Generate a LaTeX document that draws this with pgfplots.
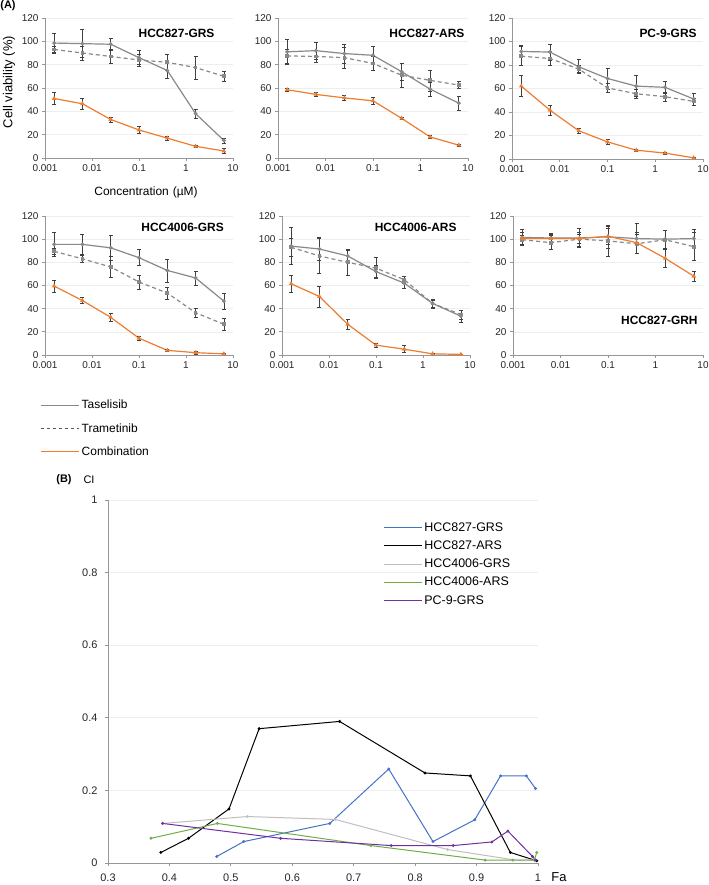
\documentclass[border=0pt]{standalone}
\usepackage{pgfplots}
\pgfplotsset{compat=1.18}
\usepackage{fontspec}
\setmainfont{Liberation Sans}
\pgfkeys{/pgf/number format/assume math mode=true}

\definecolor{tasgray}{RGB}{137,137,137}
\definecolor{tragray}{RGB}{137,137,137}
\definecolor{corange}{RGB}{237,125,49}
\definecolor{errcol}{RGB}{64,64,64}
\definecolor{axcol}{RGB}{150,150,150}
\definecolor{gridcol}{RGB}{238,238,238}
\definecolor{cblue}{RGB}{68,114,196}
\definecolor{lgray}{RGB}{191,191,191}
\definecolor{lgreen}{RGB}{112,173,71}
\definecolor{lpurple}{RGB}{112,48,160}

\pgfplotsset{
  errbars/.style={
    error bars/y dir=both, error bars/y explicit,
    error bars/error bar style={errcol, line width=0.6bp, solid},
    error bars/error mark options={rotate=90, errcol, mark size=2bp, line width=0.6bp, solid},
  },
  tasplot/.style={errbars, color=tasgray, line width=1.2bp, mark=*, mark size=1.3bp, mark options={solid, fill=tasgray}},
  traplot/.style={errbars, color=tragray, line width=1.2bp, dash pattern=on 4bp off 3bp, mark=square*, mark size=1.3bp, mark options={solid, fill=tragray}},
  complot/.style={errbars, color=corange, line width=1.2bp, mark=triangle*, mark size=1.5bp, mark options={solid, fill=corange}},
  ciplot/.style={line width=1bp, mark=*, mark size=0.9bp},
}
\newcommand\ttlfont{\bfseries\fontsize{12}{14}\selectfont}
\newcommand\tickfont{\fontsize{10}{12}\selectfont}

\begin{document}
\begin{tikzpicture}[x=1bp,y=1bp]
\useasboundingbox (0,0) rectangle (709,885);

% (A) HCC827-GRS
\begin{axis}[xmode=log, xmin=0.001, xmax=10, ymin=0, ymax=120, ytick={0,20,...,120},
  xtick={0.001,0.01,0.1,1,10}, xticklabels={0.001,0.01,0.1,1,10}, xminorticks=false,
  scale only axis, axis x line*=bottom, axis y line*=left,
  axis line style={axcol, line width=0.8bp}, tick style={axcol, line width=0.8bp},
  tick align=outside, major tick length=3bp, ymajorgrids, grid style={gridcol, line width=0.6bp},
  tick label style={font=\tickfont, black!85},
  at={(45bp,727bp)}, anchor=south west, width=188bp, height=140bp]
\addplot[tasplot] coordinates {(0.0015625,98.5)+-(0,8) (0.00625,98)+-(0,12) (0.025,97.5)+-(0,5) (0.1,86)+-(0,6) (0.4,75)+-(0,7) (1.6,38)+-(0,4) (6.4,15)+-(0,2)};
\addplot[traplot] coordinates {(0.0015625,93)+-(0,3) (0.00625,90)+-(0,6) (0.025,87)+-(0,6) (0.1,84)+-(0,5) (0.4,82)+-(0,7) (1.6,77.5)+-(0,10) (6.4,70)+-(0,4)};
\addplot[complot] coordinates {(0.0015625,51)+-(0,5) (0.00625,46.5)+-(0,5) (0.025,33)+-(0,2) (0.1,24)+-(0,3) (0.4,17)+-(0,2) (1.6,10)+-(0,1) (6.4,6)+-(0,2)};
\node[anchor=east, font=\ttlfont] at (rel axis cs:0.92,0.89) {HCC827-GRS};
\end{axis}

% HCC827-ARS
\begin{axis}[xmode=log, xmin=0.001, xmax=10, ymin=0, ymax=120, ytick={0,20,...,120},
  xtick={0.001,0.01,0.1,1,10}, xticklabels={0.001,0.01,0.1,1,10}, xminorticks=false,
  scale only axis, axis x line*=bottom, axis y line*=left,
  axis line style={axcol, line width=0.8bp}, tick style={axcol, line width=0.8bp},
  tick align=outside, major tick length=3bp, ymajorgrids, grid style={gridcol, line width=0.6bp},
  tick label style={font=\tickfont, black!85},
  at={(278bp,727bp)}, anchor=south west, width=190bp, height=140bp]
\addplot[tasplot] coordinates {(0.0015625,91)+-(0,11) (0.00625,92)+-(0,7) (0.025,89.5)+-(0,8) (0.1,88)+-(0,8) (0.4,74)+-(0,7) (1.6,59)+-(0,6) (6.4,47)+-(0,6)};
\addplot[traplot] coordinates {(0.0015625,87.5)+-(0,6) (0.00625,87)+-(0,5) (0.025,86)+-(0,9) (0.1,81)+-(0,6) (0.4,71)+-(0,10) (1.6,66.5)+-(0,9) (6.4,62.5)+-(0,3)};
\addplot[complot] coordinates {(0.0015625,58.5)+-(0,1.5) (0.00625,54.5)+-(0,2) (0.025,51.5)+-(0,2) (0.1,49)+-(0,3) (0.4,34)+-(0,1) (1.6,18)+-(0,1.5) (6.4,11)+-(0,1)};
\node[anchor=east, font=\ttlfont] at (rel axis cs:1.0,0.89) {HCC827-ARS};
\end{axis}

% PC-9-GRS
\begin{axis}[xmode=log, xmin=0.001, xmax=10, ymin=0, ymax=120, ytick={0,20,...,120},
  xtick={0.001,0.01,0.1,1,10}, xticklabels={0.001,0.01,0.1,1,10}, xminorticks=false,
  scale only axis, axis x line*=bottom, axis y line*=left,
  axis line style={axcol, line width=0.8bp}, tick style={axcol, line width=0.8bp},
  tick align=outside, major tick length=3bp, ymajorgrids, grid style={gridcol, line width=0.6bp},
  tick label style={font=\tickfont, black!85},
  at={(512bp,726bp)}, anchor=south west, width=191bp, height=141bp]
\addplot[tasplot] coordinates {(0.0015625,91.5)+-(0,5) (0.00625,91)+-(0,7) (0.025,78.5)+-(0,6) (0.1,68.5)+-(0,9) (0.4,62)+-(0,9) (1.6,61)+-(0,5) (6.4,51)+-(0,5)};
\addplot[traplot] coordinates {(0.0015625,87.5)+-(0,8) (0.00625,85.5)+-(0,6) (0.025,76.5)+-(0,3) (0.1,60.5)+-(0,4) (0.4,55.5)+-(0,4) (1.6,53)+-(0,4) (6.4,49)+-(0,3)};
\addplot[complot] coordinates {(0.0015625,62)+-(0,9) (0.00625,41.5)+-(0,4) (0.025,24)+-(0,2) (0.1,14.5)+-(0,2) (0.4,7.5)+-(0,1) (1.6,5)+-(0,1) (6.4,1)+-(0,0.5)};
\node[anchor=east, font=\ttlfont] at (rel axis cs:0.985,0.89) {PC-9-GRS};
\end{axis}

% HCC4006-GRS (carries the legend)
\begin{axis}[xmode=log, xmin=0.001, xmax=10, ymin=0, ymax=120, ytick={0,20,...,120},
  xtick={0.001,0.01,0.1,1,10}, xticklabels={0.001,0.01,0.1,1,10}, xminorticks=false,
  scale only axis, axis x line*=bottom, axis y line*=left,
  axis line style={axcol, line width=0.8bp}, tick style={axcol, line width=0.8bp},
  tick align=outside, major tick length=3bp, ymajorgrids, grid style={gridcol, line width=0.6bp},
  tick label style={font=\tickfont, black!85},
  at={(45bp,530bp)}, anchor=south west, width=188bp, height=139bp,
  legend style={at={(rel axis cs:-0.027,-0.306)}, anchor=north west, draw=none, fill=none,
    font=\fontsize{12}{14}\selectfont, row sep=8bp, inner sep=0pt, nodes={inner sep=2.5bp}},
  legend cell align=left]
\addplot[tasplot, forget plot] coordinates {(0.0015625,95.5)+-(0,10) (0.00625,95.5)+-(0,9) (0.025,92.5)+-(0,11) (0.1,84)+-(0,7) (0.4,73)+-(0,10) (1.6,66.5)+-(0,6) (6.4,46.5)+-(0,7)};
\addplot[traplot, forget plot] coordinates {(0.0015625,89.5)+-(0,3) (0.00625,83)+-(0,3) (0.025,76)+-(0,9) (0.1,63)+-(0,6) (0.4,53.5)+-(0,5) (1.6,36.5)+-(0,4) (6.4,26.5)+-(0,5)};
\addplot[complot, forget plot] coordinates {(0.0015625,59.5)+-(0,5) (0.00625,47)+-(0,2.5) (0.025,32.5)+-(0,3.5) (0.1,14.5)+-(0,1.5) (0.4,4)+-(0,1) (1.6,2)+-(0,1) (6.4,1)+-(0,0.5)};
\addlegendimage{legend image code/.code={\draw[draw=tasgray, line width=1.1bp] (0bp,0bp) -- (38bp,0bp);}}
\addlegendentry{Taselisib}
\addlegendimage{legend image code/.code={\draw[draw=black!65, line width=0.8bp, dash pattern=on 3bp off 3bp] (0bp,0bp) -- (38bp,0bp);}}
\addlegendentry{Trametinib}
\addlegendimage{legend image code/.code={\draw[draw=corange, line width=1.1bp] (0bp,0bp) -- (38bp,0bp);}}
\addlegendentry{Combination}
\node[anchor=east, font=\ttlfont] at (rel axis cs:0.97,0.92) {HCC4006-GRS};
\end{axis}

% HCC4006-ARS
\begin{axis}[xmode=log, xmin=0.001, xmax=10, ymin=0, ymax=120, ytick={0,20,...,120},
  xtick={0.001,0.01,0.1,1,10}, xticklabels={0.001,0.01,0.1,1,10}, xminorticks=false,
  scale only axis, axis x line*=bottom, axis y line*=left,
  axis line style={axcol, line width=0.8bp}, tick style={axcol, line width=0.8bp},
  tick align=outside, major tick length=3bp, ymajorgrids, grid style={gridcol, line width=0.6bp},
  tick label style={font=\tickfont, black!85},
  at={(282bp,530bp)}, anchor=south west, width=188bp, height=139bp]
\addplot[tasplot] coordinates {(0.0015625,94)+-(0,16) (0.00625,91.5)+-(0,10) (0.025,85.5)+-(0,5) (0.1,72)+-(0,5) (0.4,62)+-(0,4) (1.6,44.5)+-(0,4) (6.4,33.5)+-(0,5)};
\addplot[traplot] coordinates {(0.0015625,93)+-(0,8) (0.00625,85.5)+-(0,15) (0.025,80)+-(0,11) (0.1,75)+-(0,9) (0.4,65)+-(0,3) (1.6,44.5)+-(0,3) (6.4,35)+-(0,4)};
\addplot[complot] coordinates {(0.0015625,61.5)+-(0,7) (0.00625,50.5)+-(0,9) (0.025,26.5)+-(0,4) (0.1,8.5)+-(0,2) (0.4,5)+-(0,3) (1.6,1)+-(0,0.5) (6.4,0.5)+-(0,0.5)};
\node[anchor=east, font=\ttlfont] at (rel axis cs:0.947,0.92) {HCC4006-ARS};
\end{axis}

% HCC827-GRH
\begin{axis}[xmode=log, xmin=0.001, xmax=10, ymin=0, ymax=120, ytick={0,20,...,120},
  xtick={0.001,0.01,0.1,1,10}, xticklabels={0.001,0.01,0.1,1,10}, xminorticks=false,
  scale only axis, axis x line*=bottom, axis y line*=left,
  axis line style={axcol, line width=0.8bp}, tick style={axcol, line width=0.8bp},
  tick align=outside, major tick length=3bp, ymajorgrids, grid style={gridcol, line width=0.6bp},
  tick label style={font=\tickfont, black!85},
  at={(513bp,530bp)}, anchor=south west, width=190bp, height=139bp]
\addplot[tasplot] coordinates {(0.0015625,101.5)+-(0,7) (0.00625,101)+-(0,4) (0.025,101)+-(0,8) (0.1,102)+-(0,10) (0.4,100.5)+-(0,13) (1.6,100)+-(0,8) (6.4,100.5)+-(0,8)};
\addplot[traplot] coordinates {(0.0015625,99.5)+-(0,4) (0.00625,97)+-(0,6) (0.025,100)+-(0,6) (0.1,98.5)+-(0,13) (0.4,96)+-(0,8) (1.6,99.5)+-(0,8) (6.4,93.5)+-(0,12)};
\addplot[complot] coordinates {(0.0015625,100.5)+-(0,5) (0.00625,100.5)+-(0,4) (0.025,100.5)+-(0,4) (0.1,102.5)+-(0,7) (0.4,97)+-(0,9) (1.6,83.5)+-(0,8) (6.4,68)+-(0,4)};
\node[anchor=east, font=\ttlfont] at (rel axis cs:0.99,0.25) {HCC827-GRH};
\end{axis}

% (B) combination index
\begin{axis}[xmin=0.3, xmax=1, ymin=0, ymax=1,
  xtick={0.3,0.4,0.5,0.6,0.7,0.8,0.9,1}, xticklabels={0.3,0.4,0.5,0.6,0.7,0.8,0.9,1},
  ytick={0,0.2,0.4,0.6,0.8,1}, yticklabels={0,0.2,0.4,0.6,0.8,1},
  scale only axis, axis x line*=bottom, axis y line*=left,
  axis line style={axcol, line width=0.8bp}, tick style={axcol, line width=0.8bp},
  tick align=outside, major tick length=3bp, ymajorgrids, grid style={gridcol, line width=0.6bp},
  tick label style={font=\fontsize{11}{13}\selectfont, black!85},
  xticklabel style={yshift=-4bp}, yticklabel style={xshift=-4bp},
  at={(108bp,22bp)}, anchor=south west, width=430bp, height=363bp,
  legend style={at={(rel axis cs:0.64,0.9435)}, anchor=north west, draw=none, fill=none,
    font=\fontsize{12.5}{14}\selectfont, row sep=4bp, inner sep=0pt, nodes={inner sep=2bp}},
  legend cell align=left]
\addplot[ciplot, cblue, forget plot] coordinates {(0.477,0.018) (0.521,0.059) (0.661,0.109) (0.757,0.259) (0.829,0.059) (0.897,0.119) (0.939,0.240) (0.981,0.240) (0.996,0.205)};
\addplot[ciplot, black, forget plot] coordinates {(0.386,0.029) (0.431,0.068) (0.497,0.149) (0.546,0.370) (0.677,0.390) (0.816,0.248) (0.890,0.240) (0.955,0.029) (0.998,0.006)};
\addplot[ciplot, lgray, forget plot] coordinates {(0.389,0.109) (0.527,0.128) (0.670,0.120) (0.853,0.037) (0.963,0.008) (0.980,0.008) (0.994,0.008)};
\addplot[ciplot, lgreen, forget plot] coordinates {(0.370,0.068) (0.478,0.109) (0.728,0.048) (0.914,0.008) (0.959,0.008) (0.994,0.008) (0.998,0.029)};
\addplot[ciplot, lpurple, forget plot] coordinates {(0.389,0.109) (0.581,0.068) (0.761,0.048) (0.862,0.048) (0.925,0.058) (0.951,0.088) (0.991,0.018) (0.996,0.008)};
\addlegendimage{legend image code/.code={\draw[draw=cblue, line width=1bp] (0bp,0bp) -- (38bp,0bp);}}
\addlegendentry{HCC827-GRS}
\addlegendimage{legend image code/.code={\draw[draw=black, line width=1bp] (0bp,0bp) -- (38bp,0bp);}}
\addlegendentry{HCC827-ARS}
\addlegendimage{legend image code/.code={\draw[draw=lgray, line width=1bp] (0bp,0bp) -- (38bp,0bp);}}
\addlegendentry{HCC4006-GRS}
\addlegendimage{legend image code/.code={\draw[draw=lgreen, line width=1bp] (0bp,0bp) -- (38bp,0bp);}}
\addlegendentry{HCC4006-ARS}
\addlegendimage{legend image code/.code={\draw[draw=lpurple, line width=1bp] (0bp,0bp) -- (38bp,0bp);}}
\addlegendentry{PC-9-GRS}
\end{axis}

% panel letters and axis titles
\node[font=\bfseries\fontsize{11}{13}\selectfont] at (8,879) {(A)};
\node[rotate=90, font=\fontsize{13}{15}\selectfont] at (9,803) {Cell viability (\%)};
\node[font=\fontsize{12}{14}\selectfont] at (146,693) {Concentration\hspace{4bp}(µM)};
\node[font=\bfseries\fontsize{11}{13}\selectfont] at (64,405) {(B)};
\node[font=\fontsize{11}{13}\selectfont] at (89,405) {CI};
\node[font=\fontsize{13}{15}\selectfont] at (559,8) {Fa};
\end{tikzpicture}
\end{document}
